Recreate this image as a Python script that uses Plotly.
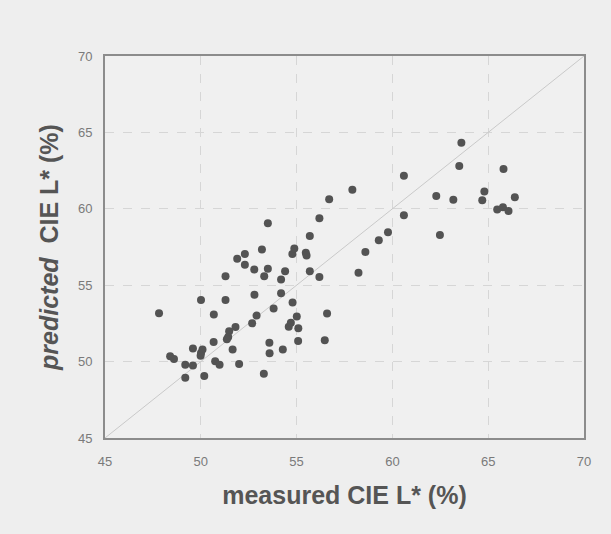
import plotly.graph_objects as go

measured = [47.82, 48.40, 48.60, 49.19, 49.59, 49.19, 49.59, 50.01, 50.01, 50.09,
            49.99, 50.18, 50.68, 50.67, 50.75, 50.98, 51.29, 51.29, 51.48, 51.43,
            51.36, 51.66, 51.81, 52.00, 51.90, 52.30, 52.30, 52.79, 52.80, 52.91,
            52.68, 53.19, 53.31, 53.50, 53.58, 53.59, 53.29, 53.80, 54.19, 54.40,
            54.19, 54.28, 54.79, 54.59, 54.70, 55.01, 55.09, 55.08, 54.78, 54.88,
            55.48, 55.52, 55.69, 56.19, 56.59, 56.47, 58.23, 53.50, 55.69, 56.19,
            56.70, 57.91, 58.59, 59.29, 59.77, 60.60, 60.60, 62.29, 62.48, 63.18,
            63.49, 63.60, 64.69, 64.80, 65.47, 65.77, 66.06, 65.80, 66.39]
predicted = [53.16, 50.35, 50.17, 49.80, 49.74, 48.95, 50.85, 54.03, 50.56, 50.79,
             50.39, 49.06, 53.08, 51.28, 50.02, 49.80, 55.58, 54.03, 51.98, 51.61,
             51.46, 50.80, 52.26, 49.84, 56.73, 57.05, 56.34, 56.02, 54.38, 53.01,
             52.51, 57.33, 55.58, 56.07, 51.23, 50.54, 49.21, 53.47, 55.37, 55.92,
             54.47, 50.80, 53.87, 52.28, 52.54, 52.95, 52.19, 51.35, 57.04, 57.40,
             57.12, 56.94, 55.92, 55.54, 53.14, 51.39, 55.82, 59.05, 58.22, 59.38,
             60.62, 61.24, 57.17, 57.94, 58.46, 62.17, 59.57, 60.84, 58.29, 60.60,
             62.80, 64.33, 60.56, 61.13, 59.95, 60.10, 59.86, 62.60, 60.75]

axis_range = [45, 70]
tick_vals = [45, 50, 55, 60, 65, 70]

fig = go.Figure()

# identity line
fig.add_trace(go.Scatter(
    x=axis_range, y=axis_range, mode="lines",
    line=dict(color="#c9c9c9", width=1), hoverinfo="skip", showlegend=False))

fig.add_trace(go.Scatter(
    x=measured, y=predicted, mode="markers",
    marker=dict(color="#535353", size=8), showlegend=False))

axis_common = dict(
    range=axis_range, tickvals=tick_vals,
    showgrid=True, gridcolor="#d6d6d6", griddash="dash", gridwidth=1,
    zeroline=False,
    showline=True, linecolor="#8c8c8c", linewidth=2, mirror=True,
    ticks="", tickfont=dict(family="Liberation Sans, Arial", size=13, color="#7a7a7a"),
)

fig.update_xaxes(
    **axis_common,
    ticklabelstandoff=10,
    title=dict(text="<b>measured CIE L* (%)</b>",
               font=dict(family="Liberation Sans, Arial", size=25, color="#555555"),
               standoff=19),
)
fig.update_yaxes(
    **axis_common,
    ticklabelstandoff=8,
    title=dict(text="<b><i>predicted</i>  CIE L* (%)</b>",
               font=dict(family="Liberation Sans, Arial", size=25, color="#555555"),
               standoff=12),
)

fig.update_layout(
    width=611, height=534,
    margin=dict(l=105, r=27, t=56, b=96),
    paper_bgcolor="#eeeeee", plot_bgcolor="#f0f0f0",
)

fig.write_html(
    "out.html",
    config={"displayModeBar": False},
    post_script="document.body.style.margin='0';document.body.style.background='#eeeeee';document.body.style.overflow='hidden';",
)
